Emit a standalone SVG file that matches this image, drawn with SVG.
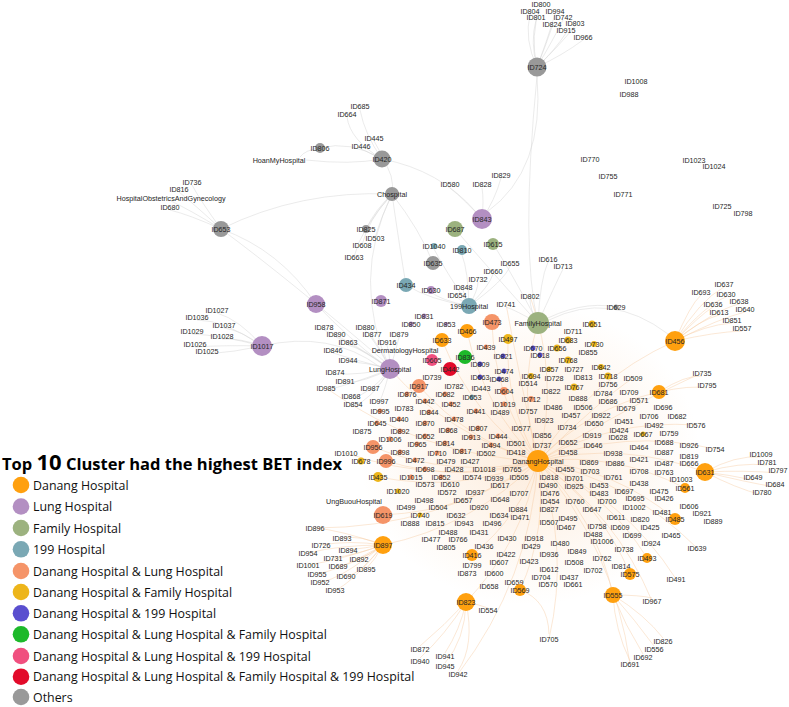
<svg xmlns="http://www.w3.org/2000/svg" width="789" height="707" viewBox="0 0 789 707">
<style>
.t{font-family:"Liberation Sans",Arial,sans-serif;font-size:7.2px;fill:#262626;text-anchor:middle;dominant-baseline:central}
.e{fill:none;stroke:#d4d4d4;stroke-width:.6;opacity:.8}
.o{fill:none;stroke:#f5cba3;stroke-width:.6;opacity:.75}
.c0{fill:#ffa00f}.c1{fill:#b38fc2}.c2{fill:#9cb27f}.c3{fill:#7aa8b4}.c4{fill:#f59468}.c5{fill:#edb51a}.c6{fill:#5a4fcf}.c7{fill:#1db92a}.c8{fill:#f0507f}.c9{fill:#e20a2a}.c10{fill:#999}
.lg{font-family:"Open Sans","Noto Sans",sans-serif;font-size:12.4px;fill:#111}
.ttl{font-family:"Open Sans","Noto Sans",sans-serif;font-size:16.5px;font-weight:bold;fill:#000}
</style>
<defs>
<radialGradient id="haze" cx="0.5" cy="0.5" r="0.5">
<stop offset="0" stop-color="#fbd9b8" stop-opacity="0.5"/>
<stop offset="1" stop-color="#fbd9b8" stop-opacity="0"/>
</radialGradient>
</defs>
<rect width="789" height="707" fill="#fff"/>
<g id="connectors">
<ellipse cx="530" cy="455" rx="170" ry="150" fill="url(#haze)"/>
<path class="e" d="M537,67 Q530,35 540,8 M537,67 Q524,40 530,14 M537,67 Q548,38 555,14 M537,67 Q530,42 536,20 M537,67 Q553,40 563,20 M537,67 Q546,45 552,27 M537,67 Q560,45 575,26 M537,67 Q555,50 566,33 M537,67 Q563,55 583,40"/>
<path class="e" d="M537,76 Q545,170 487,212 M482,219 Q495,200 501,178 M482,219 Q484,200 482,188 M482,219 Q465,200 450,188"/>
<path class="e" d="M382,159 Q365,135 360,110 M382,159 Q350,140 347,117 M382,159 Q380,150 374,141 M382,159 Q368,152 361,149 M382,159 Q350,140 320,148 M320,148 Q305,150 300,157 M382,159 Q350,165 306,160 M382,159 Q395,175 392,194 M382,159 Q440,170 476,212"/>
<path class="e" d="M392,194 Q300,190 221,229 M392,194 Q350,280 390,369 M392,194 Q375,210 366,229 M392,194 Q380,220 375,238 M392,194 Q368,220 362,245 M392,194 Q360,230 354,257 M392,194 Q400,250 406,285 M392,194 Q420,230 433,263"/>
<path class="e" d="M221,229 Q200,200 192,185 M221,229 Q195,205 179,192 M221,229 Q190,210 171,201 M221,229 Q190,215 170,210 M221,229 Q290,280 385,362 M221,229 Q280,250 316,304"/>
<path class="e" d="M262,346 Q240,320 217,313 M262,346 Q225,320 197,320 M262,346 Q240,330 224,328 M262,346 Q220,335 192,334 M262,346 Q240,338 222,339 M262,346 Q225,345 195,347 M262,346 Q235,352 207,354 M262,346 Q330,330 380,367 M316,304 Q350,340 382,363"/>
<path class="e" d="M390,369 Q350,340 324,330 M390,369 Q355,345 336,337 M390,369 Q365,350 348,345 M390,369 Q355,360 333,353 M390,369 Q365,362 348,362 M390,369 Q360,375 335,374 M390,369 Q365,382 345,383 M390,369 Q350,385 326,390 M390,369 Q378,345 365,330 M390,369 Q382,350 372,337 M390,369 Q396,350 399,337 M390,369 Q390,355 387,345 M390,369 Q370,395 351,398 M390,369 Q372,400 353,406 M390,369 Q378,390 370,390 M390,369 Q385,390 379,403"/>
<path class="e" d="M469,306 Q465,296 463,290 M469,306 Q460,300 457,297 M469,306 Q478,290 478,282 M469,306 Q490,285 493,274 M469,306 Q505,280 510,266 M469,306 Q468,270 462,255 M469,306 Q445,270 434,249 M469,306 Q440,300 431,292 M469,306 Q430,300 406,285"/>
<path class="e" d="M538,323 Q540,280 548,262 M538,323 Q555,285 563,269 M538,323 Q530,310 530,299 M538,323 Q515,310 506,307 M538,323 Q490,270 455,229 M538,323 Q510,270 493,244 M538,323 Q580,300 616,307 M549,320 Q610,290 668,334 M538,323 Q520,250 537,76"/>
<path class="o" d="M675,341 Q700,300 724,287 M675,341 Q690,305 701,295 M675,341 Q705,305 726,297 M675,341 Q700,315 713,307 M675,341 Q715,310 739,304 M675,341 Q700,320 719,315 M675,341 Q720,318 745,312 M675,341 Q705,325 732,323 M675,341 Q715,332 742,331 M659,392 Q685,375 702,376 M659,392 Q690,385 707,388"/>
<path class="o" d="M705,472 Q735,455 761,457 M705,472 Q740,462 767,465 M705,472 Q745,470 778,473 M705,472 Q730,475 753,480 M705,472 Q745,482 775,487 M705,472 Q735,488 762,495"/>
<path class="o" d="M613,595 Q645,615 663,638 M613,595 Q635,620 654,646 M613,595 Q625,625 643,654 M613,595 Q615,630 630,661 M613,595 Q640,595 652,598 M520,590 Q548,600 549,634"/>
<path class="o" d="M466,602 Q445,625 420,646 M466,602 Q460,630 445,653 M466,602 Q445,635 420,658 M466,602 Q465,640 445,663 M466,602 Q475,645 458,671 M466,602 Q480,605 488,608"/>
<path class="o" d="M383,545 Q360,535 342,538 M383,545 Q350,540 321,545 M383,545 Q340,545 308,553 M383,545 Q365,548 348,550 M383,545 Q355,555 333,558 M383,545 Q370,555 359,559 M383,545 Q340,560 308,565 M383,545 Q355,565 338,566 M383,545 Q375,560 366,569 M383,545 Q340,570 317,574 M383,545 Q360,575 346,576 M383,545 Q340,580 320,582 M383,545 Q350,585 335,590 M383,545 Q340,530 315,528"/>
<path class="o" d="M538,461 Q472,415 442,340 M538,461 Q483,407 467,331 M538,461 Q494,398 492,322 M538,461 Q505,404 508,339 M538,461 Q517,392 538,323 M538,461 Q588,380 675,341 M538,461 Q588,408 659,392 M538,461 Q623,441 705,472 M538,461 Q615,452 685,488 M538,461 Q615,469 675,519 M538,461 Q607,493 647,558 M538,461 Q601,504 630,574 M538,461 Q596,517 613,595 M538,461 Q548,528 520,590 M538,461 Q523,542 466,602 M538,461 Q519,518 472,555 M538,461 Q473,526 383,545 M538,461 Q469,511 383,515 M538,461 Q462,484 386,461 M538,461 Q453,479 373,447 M538,461 Q467,441 419,386 M538,461 Q450,437 390,369 M538,461 Q460,493 378,477 M538,461 Q570,548 549,639 M538,461 Q630,481 697,548 M538,461 Q625,428 715,449 M538,461 Q612,419 696,425 M538,461 Q441,486 346,453 M538,461 Q437,528 315,528 M538,461 Q421,456 326,388 M538,461 Q614,549 630,664 M538,461 Q530,580 458,674 M538,461 Q616,514 652,601 M538,461 Q625,499 676,579 M538,461 Q600,400 633,378 M538,461 Q560,380 530,296 M538,461 Q520,380 506,304 M538,461 Q640,400 702,373"/>
</g>
<g id="n_ID800"><text class="t" x="541" y="4">ID800</text></g>
<g id="n_ID804"><text class="t" x="530" y="11">ID804</text></g>
<g id="n_ID994"><text class="t" x="555" y="11">ID994</text></g>
<g id="n_ID801"><text class="t" x="536" y="17">ID801</text></g>
<g id="n_ID742"><text class="t" x="563" y="17">ID742</text></g>
<g id="n_ID824"><text class="t" x="552" y="24">ID824</text></g>
<g id="n_ID803"><text class="t" x="575" y="23">ID803</text></g>
<g id="n_ID915"><text class="t" x="566" y="30">ID915</text></g>
<g id="n_ID966"><text class="t" x="583" y="37">ID966</text></g>
<g id="n_ID724"><circle class="c10" cx="537" cy="67" r="9.5"/><text class="t" x="537" y="67">ID724</text></g>
<g id="n_ID1008"><text class="t" x="636" y="81">ID1008</text></g>
<g id="n_ID988"><text class="t" x="629" y="94">ID988</text></g>
<g id="n_ID770"><text class="t" x="590" y="159">ID770</text></g>
<g id="n_ID1023"><text class="t" x="694" y="160">ID1023</text></g>
<g id="n_ID1024"><text class="t" x="714" y="166">ID1024</text></g>
<g id="n_ID755"><text class="t" x="608" y="176">ID755</text></g>
<g id="n_ID771"><text class="t" x="623" y="194">ID771</text></g>
<g id="n_ID725"><text class="t" x="722" y="206">ID725</text></g>
<g id="n_ID798"><text class="t" x="743" y="213">ID798</text></g>
<g id="n_ID685"><text class="t" x="360" y="106">ID685</text></g>
<g id="n_ID664"><text class="t" x="347" y="114">ID664</text></g>
<g id="n_ID445"><text class="t" x="374" y="138">ID445</text></g>
<g id="n_ID446"><text class="t" x="361" y="146">ID446</text></g>
<g id="n_ID806"><circle class="c10" cx="320" cy="148" r="5"/><text class="t" x="320" y="148">ID806</text></g>
<g id="n_ID420"><circle class="c10" cx="382" cy="159" r="8.5"/><text class="t" x="382" y="159">ID420</text></g>
<g id="n_HoanMyHospital"><text class="t" x="279" y="160">HoanMyHospital</text></g>
<g id="n_ID829"><text class="t" x="501" y="175">ID829</text></g>
<g id="n_ID828"><text class="t" x="482" y="184">ID828</text></g>
<g id="n_ID580"><text class="t" x="450" y="184">ID580</text></g>
<g id="n_Chospital"><circle class="c10" cx="392" cy="194" r="7"/><text class="t" x="392" y="194">Chospital</text></g>
<g id="n_ID736"><text class="t" x="192" y="182">ID736</text></g>
<g id="n_ID816"><text class="t" x="179" y="189">ID816</text></g>
<g id="n_HospitalObstetricsAndGynecology"><text class="t" x="171" y="198">HospitalObstetricsAndGynecology</text></g>
<g id="n_ID680"><text class="t" x="170" y="207">ID680</text></g>
<g id="n_ID653"><circle class="c10" cx="221" cy="229" r="8"/><text class="t" x="221" y="229">ID653</text></g>
<g id="n_ID825"><circle class="c10" cx="366" cy="229" r="4"/><text class="t" x="366" y="229">ID825</text></g>
<g id="n_ID503"><text class="t" x="375" y="238">ID503</text></g>
<g id="n_ID608"><text class="t" x="362" y="245">ID608</text></g>
<g id="n_ID663"><text class="t" x="354" y="257">ID663</text></g>
<g id="n_ID843"><circle class="c1" cx="482" cy="219" r="10"/><text class="t" x="482" y="219">ID843</text></g>
<g id="n_ID687"><circle class="c2" cx="455" cy="229" r="8"/><text class="t" x="455" y="229">ID687</text></g>
<g id="n_ID615"><circle class="c2" cx="493" cy="244" r="6"/><text class="t" x="493" y="244">ID615</text></g>
<g id="n_ID1040"><circle class="c3" cx="434" cy="246" r="3"/><text class="t" x="434" y="246">ID1040</text></g>
<g id="n_ID810"><circle class="c3" cx="462" cy="250" r="5"/><text class="t" x="462" y="250">ID810</text></g>
<g id="n_ID635"><circle class="c10" cx="433" cy="263" r="7"/><text class="t" x="433" y="263">ID635</text></g>
<g id="n_ID655"><text class="t" x="510" y="263">ID655</text></g>
<g id="n_ID660"><text class="t" x="493" y="271">ID660</text></g>
<g id="n_ID732"><text class="t" x="478" y="279">ID732</text></g>
<g id="n_ID848"><text class="t" x="463" y="287">ID848</text></g>
<g id="n_ID654"><text class="t" x="457" y="295">ID654</text></g>
<g id="n_ID616"><text class="t" x="548" y="259">ID616</text></g>
<g id="n_ID713"><text class="t" x="563" y="266">ID713</text></g>
<g id="n_ID434"><circle class="c3" cx="406" cy="285" r="7"/><text class="t" x="406" y="285">ID434</text></g>
<g id="n_ID630"><circle class="c1" cx="431" cy="290" r="4"/><text class="t" x="431" y="290">ID630</text></g>
<g id="n_ID958"><circle class="c1" cx="316" cy="304" r="9"/><text class="t" x="316" y="304">ID958</text></g>
<g id="n_ID871"><circle class="c1" cx="381" cy="301" r="6"/><text class="t" x="381" y="301">ID871</text></g>
<g id="n_199Hospital"><circle class="c3" cx="469" cy="306" r="8"/><text class="t" x="469" y="306">199Hospital</text></g>
<g id="n_ID741"><text class="t" x="506" y="304">ID741</text></g>
<g id="n_ID802"><text class="t" x="530" y="296">ID802</text></g>
<g id="n_ID629"><circle class="c10" cx="616" cy="307" r="2.5"/><text class="t" x="616" y="307">ID629</text></g>
<g id="n_ID637"><text class="t" x="724" y="284">ID637</text></g>
<g id="n_ID693"><text class="t" x="701" y="292">ID693</text></g>
<g id="n_ID630_b"><text class="t" x="726" y="294">ID630</text></g>
<g id="n_ID636"><text class="t" x="713" y="304">ID636</text></g>
<g id="n_ID638"><text class="t" x="739" y="301">ID638</text></g>
<g id="n_ID613"><text class="t" x="719" y="312">ID613</text></g>
<g id="n_ID640"><text class="t" x="745" y="309">ID640</text></g>
<g id="n_ID851"><text class="t" x="732" y="320">ID851</text></g>
<g id="n_ID557"><text class="t" x="742" y="328">ID557</text></g>
<g id="n_ID456"><circle class="c0" cx="675" cy="341" r="10"/><text class="t" x="675" y="341">ID456</text></g>
<g id="n_ID735"><text class="t" x="702" y="373">ID735</text></g>
<g id="n_ID795"><text class="t" x="707" y="385">ID795</text></g>
<g id="n_ID1027"><text class="t" x="217" y="310">ID1027</text></g>
<g id="n_ID1036"><text class="t" x="197" y="317">ID1036</text></g>
<g id="n_ID1037"><text class="t" x="224" y="325">ID1037</text></g>
<g id="n_ID1029"><text class="t" x="192" y="331">ID1029</text></g>
<g id="n_ID1028"><text class="t" x="222" y="336">ID1028</text></g>
<g id="n_ID1026"><text class="t" x="195" y="344">ID1026</text></g>
<g id="n_ID1025"><text class="t" x="207" y="351">ID1025</text></g>
<g id="n_ID1017"><circle class="c1" cx="262" cy="346" r="10"/><text class="t" x="262" y="346">ID1017</text></g>
<g id="n_ID831"><circle class="c1" cx="424" cy="316" r="2.5"/><text class="t" x="424" y="316">ID831</text></g>
<g id="n_ID878"><text class="t" x="324" y="327">ID878</text></g>
<g id="n_ID880"><text class="t" x="365" y="327">ID880</text></g>
<g id="n_ID850"><circle class="c1" cx="411" cy="324" r="2.5"/><text class="t" x="411" y="324">ID850</text></g>
<g id="n_ID853"><circle class="c1" cx="446" cy="324" r="2"/><text class="t" x="446" y="324">ID853</text></g>
<g id="n_ID473"><circle class="c4" cx="492" cy="322" r="8"/><text class="t" x="492" y="322">ID473</text></g>
<g id="n_FamilyHospital"><circle class="c2" cx="538" cy="323" r="11"/><text class="t" x="538" y="323">FamilyHospital</text></g>
<g id="n_ID890"><text class="t" x="336" y="334">ID890</text></g>
<g id="n_ID877"><text class="t" x="372" y="334">ID877</text></g>
<g id="n_ID879"><text class="t" x="399" y="334">ID879</text></g>
<g id="n_ID466"><circle class="c0" cx="467" cy="331" r="7"/><text class="t" x="467" y="331">ID466</text></g>
<g id="n_ID633"><circle class="c0" cx="442" cy="340" r="7"/><text class="t" x="442" y="340">ID633</text></g>
<g id="n_ID497"><circle class="c5" cx="508" cy="339" r="5"/><text class="t" x="508" y="339">ID497</text></g>
<g id="n_ID651"><circle class="c5" cx="592" cy="324" r="3.5"/><text class="t" x="592" y="324">ID651</text></g>
<g id="n_ID711"><text class="t" x="573" y="331">ID711</text></g>
<g id="n_ID683"><circle class="c5" cx="568" cy="340" r="3.5"/><text class="t" x="568" y="340">ID683</text></g>
<g id="n_ID730"><circle class="c5" cx="594" cy="344" r="3"/><text class="t" x="594" y="344">ID730</text></g>
<g id="n_ID656"><circle class="c5" cx="557" cy="348" r="3.5"/><text class="t" x="557" y="348">ID656</text></g>
<g id="n_ID855"><text class="t" x="588" y="352">ID855</text></g>
<g id="n_ID670"><circle class="c6" cx="533" cy="348" r="2.5"/><text class="t" x="533" y="348">ID670</text></g>
<g id="n_ID863"><text class="t" x="348" y="342">ID863</text></g>
<g id="n_ID916"><text class="t" x="387" y="342">ID916</text></g>
<g id="n_ID439"><circle class="c4" cx="486" cy="347" r="2.5"/><text class="t" x="486" y="347">ID439</text></g>
<g id="n_ID846"><text class="t" x="333" y="350">ID846</text></g>
<g id="n_DermatologyHospital"><text class="t" x="405" y="350">DermatologyHospital</text></g>
<g id="n_ID836"><circle class="c7" cx="465" cy="357" r="7"/><text class="t" x="465" y="357">ID836</text></g>
<g id="n_ID605"><circle class="c8" cx="432" cy="360" r="6"/><text class="t" x="432" y="360">ID605</text></g>
<g id="n_ID944"><text class="t" x="348" y="360">ID944</text></g>
<g id="n_ID809"><circle class="c6" cx="480" cy="364" r="2.5"/><text class="t" x="480" y="364">ID809</text></g>
<g id="n_ID821"><circle class="c6" cx="503" cy="356" r="2.5"/><text class="t" x="503" y="356">ID821</text></g>
<g id="n_ID618"><circle class="c6" cx="540" cy="355" r="2.5"/><text class="t" x="540" y="355">ID618</text></g>
<g id="n_ID474"><circle class="c6" cx="504" cy="371" r="2.5"/><text class="t" x="504" y="371">ID474</text></g>
<g id="n_ID874"><text class="t" x="335" y="372">ID874</text></g>
<g id="n_LungHospital"><circle class="c1" cx="390" cy="369" r="10"/><text class="t" x="390" y="369">LungHospital</text></g>
<g id="n_ID442"><circle class="c9" cx="450" cy="369" r="7"/><text class="t" x="450" y="369">ID442</text></g>
<g id="n_ID768"><circle class="c5" cx="568" cy="360" r="3.5"/><text class="t" x="568" y="360">ID768</text></g>
<g id="n_ID857"><circle class="c5" cx="549" cy="369" r="2.5"/><text class="t" x="549" y="369">ID857</text></g>
<g id="n_ID727"><text class="t" x="574" y="369">ID727</text></g>
<g id="n_ID842"><circle class="c5" cx="601" cy="367" r="3"/><text class="t" x="601" y="367">ID842</text></g>
<g id="n_ID891"><text class="t" x="345" y="381">ID891</text></g>
<g id="n_ID739"><text class="t" x="432" y="377">ID739</text></g>
<g id="n_ID663_b"><circle class="c6" cx="480" cy="377" r="2.5"/><text class="t" x="480" y="377">ID663</text></g>
<g id="n_ID468"><circle class="c6" cx="499" cy="379" r="2.5"/><text class="t" x="499" y="379">ID468</text></g>
<g id="n_ID694"><circle class="c5" cx="531" cy="376" r="3"/><text class="t" x="531" y="376">ID694</text></g>
<g id="n_ID728"><text class="t" x="554" y="378">ID728</text></g>
<g id="n_ID813"><text class="t" x="583" y="377">ID813</text></g>
<g id="n_ID718"><circle class="c5" cx="608" cy="376" r="3.5"/><text class="t" x="608" y="376">ID718</text></g>
<g id="n_ID509"><text class="t" x="633" y="378">ID509</text></g>
<g id="n_ID514"><text class="t" x="528" y="383">ID514</text></g>
<g id="n_ID985"><text class="t" x="326" y="388">ID985</text></g>
<g id="n_ID987"><text class="t" x="370" y="388">ID987</text></g>
<g id="n_ID917"><circle class="c4" cx="419" cy="386" r="7"/><text class="t" x="419" y="386">ID917</text></g>
<g id="n_ID782"><text class="t" x="454" y="386">ID782</text></g>
<g id="n_ID443"><text class="t" x="481" y="388">ID443</text></g>
<g id="n_ID604"><circle class="c4" cx="504" cy="391" r="4"/><text class="t" x="504" y="391">ID604</text></g>
<g id="n_ID822"><text class="t" x="551" y="391">ID822</text></g>
<g id="n_ID767"><circle class="c5" cx="574" cy="387" r="3.5"/><text class="t" x="574" y="387">ID767</text></g>
<g id="n_ID756"><text class="t" x="608" y="384">ID756</text></g>
<g id="n_ID784"><text class="t" x="603" y="393">ID784</text></g>
<g id="n_ID709"><text class="t" x="629" y="392">ID709</text></g>
<g id="n_ID681"><circle class="c0" cx="659" cy="392" r="7"/><text class="t" x="659" y="392">ID681</text></g>
<g id="n_ID868"><text class="t" x="351" y="396">ID868</text></g>
<g id="n_ID876"><circle class="c4" cx="407" cy="394" r="2.5"/><text class="t" x="407" y="394">ID876</text></g>
<g id="n_ID682"><circle class="c4" cx="445" cy="394" r="2.5"/><text class="t" x="445" y="394">ID682</text></g>
<g id="n_ID653_b"><circle class="c3" cx="472" cy="397" r="2.5"/><text class="t" x="472" y="397">ID653</text></g>
<g id="n_ID712"><circle class="c4" cx="531" cy="399" r="3"/><text class="t" x="531" y="399">ID712</text></g>
<g id="n_ID888"><text class="t" x="578" y="398">ID888</text></g>
<g id="n_ID686"><text class="t" x="608" y="401">ID686</text></g>
<g id="n_ID571"><text class="t" x="639" y="400">ID571</text></g>
<g id="n_ID854"><text class="t" x="353" y="404">ID854</text></g>
<g id="n_ID997"><text class="t" x="379" y="401">ID997</text></g>
<g id="n_ID442_b"><circle class="c4" cx="425" cy="401" r="2.5"/><text class="t" x="425" y="401">ID442</text></g>
<g id="n_ID452"><circle class="c4" cx="451" cy="404" r="2.5"/><text class="t" x="451" y="404">ID452</text></g>
<g id="n_ID1019"><circle class="c4" cx="504" cy="404" r="2.5"/><text class="t" x="504" y="404">ID1019</text></g>
<g id="n_ID486"><text class="t" x="553" y="407">ID486</text></g>
<g id="n_ID506"><text class="t" x="583" y="407">ID506</text></g>
<g id="n_ID679"><text class="t" x="626" y="408">ID679</text></g>
<g id="n_ID696"><text class="t" x="663" y="407">ID696</text></g>
<g id="n_ID995"><circle class="c4" cx="380" cy="411" r="2.5"/><text class="t" x="380" y="411">ID995</text></g>
<g id="n_ID783"><text class="t" x="404" y="408">ID783</text></g>
<g id="n_ID844"><circle class="c4" cx="429" cy="412" r="2.5"/><text class="t" x="429" y="412">ID844</text></g>
<g id="n_ID441"><circle class="c4" cx="476" cy="411" r="2.5"/><text class="t" x="476" y="411">ID441</text></g>
<g id="n_ID489"><text class="t" x="500" y="412">ID489</text></g>
<g id="n_ID757"><text class="t" x="528" y="411">ID757</text></g>
<g id="n_ID457"><text class="t" x="571" y="415">ID457</text></g>
<g id="n_ID922"><text class="t" x="601" y="415">ID922</text></g>
<g id="n_ID706"><text class="t" x="649" y="416">ID706</text></g>
<g id="n_ID682_b"><text class="t" x="677" y="416">ID682</text></g>
<g id="n_ID645"><circle class="c4" cx="377" cy="423" r="2.5"/><text class="t" x="377" y="423">ID645</text></g>
<g id="n_ID440"><circle class="c4" cx="399" cy="419" r="2.5"/><text class="t" x="399" y="419">ID440</text></g>
<g id="n_ID870"><circle class="c4" cx="425" cy="423" r="2.5"/><text class="t" x="425" y="423">ID870</text></g>
<g id="n_ID478"><circle class="c4" cx="454" cy="419" r="2.5"/><text class="t" x="454" y="419">ID478</text></g>
<g id="n_ID923"><text class="t" x="544" y="420">ID923</text></g>
<g id="n_ID650"><text class="t" x="594" y="423">ID650</text></g>
<g id="n_ID451"><text class="t" x="624" y="421">ID451</text></g>
<g id="n_ID492"><text class="t" x="654" y="425">ID492</text></g>
<g id="n_ID576"><text class="t" x="696" y="425">ID576</text></g>
<g id="n_ID807"><circle class="c4" cx="478" cy="428" r="2.5"/><text class="t" x="478" y="428">ID807</text></g>
<g id="n_ID577"><text class="t" x="521" y="428">ID577</text></g>
<g id="n_ID734"><text class="t" x="567" y="427">ID734</text></g>
<g id="n_ID424"><text class="t" x="619" y="430">ID424</text></g>
<g id="n_ID667"><circle class="c5" cx="643" cy="434" r="2.5"/><text class="t" x="643" y="434">ID667</text></g>
<g id="n_ID759"><text class="t" x="669" y="433">ID759</text></g>
<g id="n_ID875"><text class="t" x="362" y="431">ID875</text></g>
<g id="n_ID892"><circle class="c4" cx="400" cy="431" r="2.5"/><text class="t" x="400" y="431">ID892</text></g>
<g id="n_ID868_b"><circle class="c4" cx="448" cy="430" r="2.5"/><text class="t" x="448" y="430">ID868</text></g>
<g id="n_ID913"><circle class="c4" cx="471" cy="437" r="2.5"/><text class="t" x="471" y="437">ID913</text></g>
<g id="n_ID444"><circle class="c4" cx="498" cy="436" r="2.5"/><text class="t" x="498" y="436">ID444</text></g>
<g id="n_ID856"><text class="t" x="542" y="435">ID856</text></g>
<g id="n_ID919"><text class="t" x="592" y="435">ID919</text></g>
<g id="n_ID628"><text class="t" x="618" y="437">ID628</text></g>
<g id="n_ID1006"><circle class="c4" cx="390" cy="439" r="2.5"/><text class="t" x="390" y="439">ID1006</text></g>
<g id="n_ID652"><circle class="c4" cx="425" cy="436" r="2.5"/><text class="t" x="425" y="436">ID652</text></g>
<g id="n_ID652_b"><text class="t" x="568" y="442">ID652</text></g>
<g id="n_ID646"><text class="t" x="593" y="445">ID646</text></g>
<g id="n_ID688"><text class="t" x="664" y="442">ID688</text></g>
<g id="n_ID926"><text class="t" x="689" y="445">ID926</text></g>
<g id="n_ID754"><text class="t" x="715" y="449">ID754</text></g>
<g id="n_ID956"><circle class="c4" cx="373" cy="447" r="7"/><text class="t" x="373" y="447">ID956</text></g>
<g id="n_ID965"><circle class="c4" cx="417" cy="444" r="2.5"/><text class="t" x="417" y="444">ID965</text></g>
<g id="n_ID814"><circle class="c4" cx="445" cy="443" r="2.5"/><text class="t" x="445" y="443">ID814</text></g>
<g id="n_ID494"><circle class="c4" cx="491" cy="445" r="2.5"/><text class="t" x="491" y="445">ID494</text></g>
<g id="n_ID501"><text class="t" x="516" y="443">ID501</text></g>
<g id="n_ID737"><text class="t" x="542" y="445">ID737</text></g>
<g id="n_ID464"><text class="t" x="639" y="447">ID464</text></g>
<g id="n_ID1010"><text class="t" x="346" y="453">ID1010</text></g>
<g id="n_ID898"><circle class="c4" cx="400" cy="452" r="2.5"/><text class="t" x="400" y="452">ID898</text></g>
<g id="n_ID710"><circle class="c4" cx="437" cy="453" r="2.5"/><text class="t" x="437" y="453">ID710</text></g>
<g id="n_ID817"><circle class="c4" cx="462" cy="451" r="2.5"/><text class="t" x="462" y="451">ID817</text></g>
<g id="n_ID502"><text class="t" x="486" y="453">ID502</text></g>
<g id="n_ID418"><text class="t" x="516" y="452">ID418</text></g>
<g id="n_ID458"><text class="t" x="568" y="452">ID458</text></g>
<g id="n_ID938"><text class="t" x="613" y="453">ID938</text></g>
<g id="n_ID887"><text class="t" x="664" y="452">ID887</text></g>
<g id="n_ID819"><text class="t" x="689" y="456">ID819</text></g>
<g id="n_ID1009"><text class="t" x="761" y="454">ID1009</text></g>
<g id="n_ID678"><circle class="c5" cx="361" cy="461" r="3.5"/><text class="t" x="361" y="461">ID678</text></g>
<g id="n_ID996"><circle class="c4" cx="386" cy="461" r="7"/><text class="t" x="386" y="461">ID996</text></g>
<g id="n_ID472"><circle class="c4" cx="415" cy="460" r="2.5"/><text class="t" x="415" y="460">ID472</text></g>
<g id="n_ID479"><text class="t" x="446" y="461">ID479</text></g>
<g id="n_ID427"><text class="t" x="470" y="461">ID427</text></g>
<g id="n_ID765"><text class="t" x="512" y="469">ID765</text></g>
<g id="n_DanangHospital"><circle class="c0" cx="538" cy="461" r="11"/><text class="t" x="538" y="461">DanangHospital</text></g>
<g id="n_ID869"><text class="t" x="589" y="462">ID869</text></g>
<g id="n_ID886"><text class="t" x="615" y="463">ID886</text></g>
<g id="n_ID421"><text class="t" x="639" y="459">ID421</text></g>
<g id="n_ID487"><text class="t" x="664" y="463">ID487</text></g>
<g id="n_ID666"><text class="t" x="689" y="463">ID666</text></g>
<g id="n_ID781"><text class="t" x="767" y="462">ID781</text></g>
<g id="n_ID698"><circle class="c4" cx="425" cy="469" r="2.5"/><text class="t" x="425" y="469">ID698</text></g>
<g id="n_ID428"><text class="t" x="454" y="469">ID428</text></g>
<g id="n_ID1018"><text class="t" x="484" y="469">ID1018</text></g>
<g id="n_ID455"><text class="t" x="565" y="469">ID455</text></g>
<g id="n_ID703"><text class="t" x="590" y="471">ID703</text></g>
<g id="n_ID708"><text class="t" x="639" y="471">ID708</text></g>
<g id="n_ID763"><text class="t" x="664" y="472">ID763</text></g>
<g id="n_ID631"><circle class="c0" cx="705" cy="472" r="9"/><text class="t" x="705" y="472">ID631</text></g>
<g id="n_ID797"><text class="t" x="778" y="470">ID797</text></g>
<g id="n_ID435"><circle class="c5" cx="378" cy="477" r="5"/><text class="t" x="378" y="477">ID435</text></g>
<g id="n_ID1015"><circle class="c4" cx="411" cy="477" r="2.5"/><text class="t" x="411" y="477">ID1015</text></g>
<g id="n_ID852"><circle class="c4" cx="441" cy="477" r="2.5"/><text class="t" x="441" y="477">ID852</text></g>
<g id="n_ID574"><text class="t" x="472" y="477">ID574</text></g>
<g id="n_ID939"><text class="t" x="494" y="478">ID939</text></g>
<g id="n_ID505"><text class="t" x="519" y="477">ID505</text></g>
<g id="n_ID818"><text class="t" x="549" y="477">ID818</text></g>
<g id="n_ID701"><text class="t" x="574" y="478">ID701</text></g>
<g id="n_ID761"><text class="t" x="613" y="477">ID761</text></g>
<g id="n_ID649"><text class="t" x="753" y="477">ID649</text></g>
<g id="n_ID1003"><text class="t" x="681" y="479">ID1003</text></g>
<g id="n_ID573"><text class="t" x="425" y="484">ID573</text></g>
<g id="n_ID610"><text class="t" x="450" y="484">ID610</text></g>
<g id="n_ID617"><text class="t" x="500" y="485">ID617</text></g>
<g id="n_ID490"><text class="t" x="548" y="485">ID490</text></g>
<g id="n_ID925"><text class="t" x="574" y="486">ID925</text></g>
<g id="n_ID453"><text class="t" x="599" y="485">ID453</text></g>
<g id="n_ID438"><text class="t" x="639" y="483">ID438</text></g>
<g id="n_ID684"><text class="t" x="775" y="484">ID684</text></g>
<g id="n_ID561"><circle class="c0" cx="685" cy="488" r="5"/><text class="t" x="685" y="488">ID561</text></g>
<g id="n_ID1020"><circle class="c5" cx="398" cy="491" r="2.5"/><text class="t" x="398" y="491">ID1020</text></g>
<g id="n_ID572"><text class="t" x="447" y="492">ID572</text></g>
<g id="n_ID937"><text class="t" x="475" y="492">ID937</text></g>
<g id="n_ID707"><text class="t" x="519" y="493">ID707</text></g>
<g id="n_ID476"><text class="t" x="550" y="493">ID476</text></g>
<g id="n_ID483"><text class="t" x="599" y="493">ID483</text></g>
<g id="n_ID697"><text class="t" x="624" y="491">ID697</text></g>
<g id="n_ID475"><text class="t" x="659" y="491">ID475</text></g>
<g id="n_ID780"><text class="t" x="762" y="492">ID780</text></g>
<g id="n_UngBuouHospital"><text class="t" x="354" y="501">UngBuouHospital</text></g>
<g id="n_ID498"><text class="t" x="424" y="500">ID498</text></g>
<g id="n_ID657"><text class="t" x="463" y="500">ID657</text></g>
<g id="n_ID648"><text class="t" x="500" y="499">ID648</text></g>
<g id="n_ID454"><text class="t" x="550" y="501">ID454</text></g>
<g id="n_ID760"><text class="t" x="575" y="501">ID760</text></g>
<g id="n_ID700"><text class="t" x="607" y="501">ID700</text></g>
<g id="n_ID695"><text class="t" x="635" y="498">ID695</text></g>
<g id="n_ID426"><text class="t" x="664" y="498">ID426</text></g>
<g id="n_ID499"><text class="t" x="406" y="507">ID499</text></g>
<g id="n_ID504"><text class="t" x="438" y="507">ID504</text></g>
<g id="n_ID920"><text class="t" x="479" y="507">ID920</text></g>
<g id="n_ID884"><text class="t" x="518" y="509">ID884</text></g>
<g id="n_ID827"><text class="t" x="549" y="509">ID827</text></g>
<g id="n_ID647"><text class="t" x="592" y="509">ID647</text></g>
<g id="n_ID1002"><text class="t" x="634" y="507">ID1002</text></g>
<g id="n_ID606"><text class="t" x="689" y="506">ID606</text></g>
<g id="n_ID481"><text class="t" x="662" y="512">ID481</text></g>
<g id="n_ID921"><text class="t" x="702" y="513">ID921</text></g>
<g id="n_ID619"><circle class="c4" cx="383" cy="515" r="9"/><text class="t" x="383" y="515">ID619</text></g>
<g id="n_ID740"><circle class="c5" cx="420" cy="515" r="2.5"/><text class="t" x="420" y="515">ID740</text></g>
<g id="n_ID632"><text class="t" x="456" y="515">ID632</text></g>
<g id="n_ID634"><text class="t" x="499" y="515">ID634</text></g>
<g id="n_ID471"><text class="t" x="520" y="517">ID471</text></g>
<g id="n_ID495"><text class="t" x="568" y="518">ID495</text></g>
<g id="n_ID611"><text class="t" x="616" y="517">ID611</text></g>
<g id="n_ID820"><text class="t" x="640" y="519">ID820</text></g>
<g id="n_ID485"><circle class="c0" cx="675" cy="519" r="6"/><text class="t" x="675" y="519">ID485</text></g>
<g id="n_ID889"><text class="t" x="713" y="521">ID889</text></g>
<g id="n_ID888_b"><text class="t" x="410" y="523">ID888</text></g>
<g id="n_ID815"><text class="t" x="435" y="523">ID815</text></g>
<g id="n_ID943"><text class="t" x="464" y="523">ID943</text></g>
<g id="n_ID496"><text class="t" x="492" y="523">ID496</text></g>
<g id="n_ID507"><text class="t" x="549" y="522">ID507</text></g>
<g id="n_ID896"><text class="t" x="315" y="528">ID896</text></g>
<g id="n_ID467"><text class="t" x="566" y="527">ID467</text></g>
<g id="n_ID758"><text class="t" x="597" y="526">ID758</text></g>
<g id="n_ID609"><text class="t" x="620" y="527">ID609</text></g>
<g id="n_ID425"><text class="t" x="650" y="527">ID425</text></g>
<g id="n_ID488"><text class="t" x="448" y="532">ID488</text></g>
<g id="n_ID431"><text class="t" x="479" y="532">ID431</text></g>
<g id="n_ID918"><text class="t" x="534" y="538">ID918</text></g>
<g id="n_ID488_b"><text class="t" x="593" y="534">ID488</text></g>
<g id="n_ID699"><text class="t" x="632" y="535">ID699</text></g>
<g id="n_ID465"><text class="t" x="671" y="535">ID465</text></g>
<g id="n_ID893"><text class="t" x="342" y="538">ID893</text></g>
<g id="n_ID477"><text class="t" x="431" y="539">ID477</text></g>
<g id="n_ID766"><text class="t" x="458" y="539">ID766</text></g>
<g id="n_ID430"><text class="t" x="507" y="538">ID430</text></g>
<g id="n_ID480"><text class="t" x="560" y="543">ID480</text></g>
<g id="n_ID1006_b"><text class="t" x="602" y="541">ID1006</text></g>
<g id="n_ID924"><text class="t" x="651" y="543">ID924</text></g>
<g id="n_ID897"><circle class="c0" cx="383" cy="545" r="9"/><text class="t" x="383" y="545">ID897</text></g>
<g id="n_ID726"><text class="t" x="321" y="545">ID726</text></g>
<g id="n_ID805"><text class="t" x="446" y="547">ID805</text></g>
<g id="n_ID436"><text class="t" x="484" y="546">ID436</text></g>
<g id="n_ID429"><text class="t" x="531" y="546">ID429</text></g>
<g id="n_ID738"><text class="t" x="624" y="549">ID738</text></g>
<g id="n_ID639"><text class="t" x="697" y="548">ID639</text></g>
<g id="n_ID894"><text class="t" x="348" y="550">ID894</text></g>
<g id="n_ID954"><text class="t" x="308" y="553">ID954</text></g>
<g id="n_ID416"><circle class="c0" cx="472" cy="555" r="6"/><text class="t" x="472" y="555">ID416</text></g>
<g id="n_ID422"><text class="t" x="506" y="554">ID422</text></g>
<g id="n_ID936"><text class="t" x="549" y="554">ID936</text></g>
<g id="n_ID849"><text class="t" x="577" y="551">ID849</text></g>
<g id="n_ID731"><text class="t" x="333" y="558">ID731</text></g>
<g id="n_ID892_b"><text class="t" x="359" y="559">ID892</text></g>
<g id="n_ID762"><text class="t" x="602" y="558">ID762</text></g>
<g id="n_ID493"><circle class="c0" cx="647" cy="558" r="5"/><text class="t" x="647" y="558">ID493</text></g>
<g id="n_ID607"><text class="t" x="499" y="562">ID607</text></g>
<g id="n_ID423"><text class="t" x="529" y="561">ID423</text></g>
<g id="n_ID508"><text class="t" x="574" y="562">ID508</text></g>
<g id="n_ID1001"><text class="t" x="308" y="565">ID1001</text></g>
<g id="n_ID689"><text class="t" x="338" y="566">ID689</text></g>
<g id="n_ID799"><text class="t" x="472" y="565">ID799</text></g>
<g id="n_ID814_b"><text class="t" x="621" y="566">ID814</text></g>
<g id="n_ID895"><text class="t" x="366" y="569">ID895</text></g>
<g id="n_ID612"><text class="t" x="549" y="569">ID612</text></g>
<g id="n_ID702"><text class="t" x="593" y="570">ID702</text></g>
<g id="n_ID575"><circle class="c0" cx="630" cy="574" r="6"/><text class="t" x="630" y="574">ID575</text></g>
<g id="n_ID955"><text class="t" x="317" y="574">ID955</text></g>
<g id="n_ID690"><text class="t" x="346" y="576">ID690</text></g>
<g id="n_ID873"><text class="t" x="467" y="573">ID873</text></g>
<g id="n_ID600"><text class="t" x="494" y="573">ID600</text></g>
<g id="n_ID704"><text class="t" x="541" y="577">ID704</text></g>
<g id="n_ID437"><text class="t" x="569" y="577">ID437</text></g>
<g id="n_ID491"><text class="t" x="676" y="579">ID491</text></g>
<g id="n_ID952"><text class="t" x="320" y="582">ID952</text></g>
<g id="n_ID659"><text class="t" x="514" y="582">ID659</text></g>
<g id="n_ID570"><text class="t" x="548" y="584">ID570</text></g>
<g id="n_ID661"><text class="t" x="573" y="584">ID661</text></g>
<g id="n_ID658"><text class="t" x="489" y="586">ID658</text></g>
<g id="n_ID953"><text class="t" x="335" y="590">ID953</text></g>
<g id="n_ID569"><circle class="c0" cx="520" cy="590" r="6"/><text class="t" x="520" y="590">ID569</text></g>
<g id="n_ID555"><circle class="c0" cx="613" cy="595" r="8"/><text class="t" x="613" y="595">ID555</text></g>
<g id="n_ID967"><text class="t" x="652" y="601">ID967</text></g>
<g id="n_ID823"><circle class="c0" cx="466" cy="602" r="9"/><text class="t" x="466" y="602">ID823</text></g>
<g id="n_ID554"><text class="t" x="488" y="610">ID554</text></g>
<g id="n_ID705"><text class="t" x="549" y="639">ID705</text></g>
<g id="n_ID826"><text class="t" x="663" y="641">ID826</text></g>
<g id="n_ID556"><text class="t" x="654" y="649">ID556</text></g>
<g id="n_ID692"><text class="t" x="643" y="657">ID692</text></g>
<g id="n_ID691"><text class="t" x="630" y="664">ID691</text></g>
<g id="n_ID872"><text class="t" x="420" y="649">ID872</text></g>
<g id="n_ID941"><text class="t" x="445" y="656">ID941</text></g>
<g id="n_ID940"><text class="t" x="420" y="661">ID940</text></g>
<g id="n_ID945"><text class="t" x="445" y="666">ID945</text></g>
<g id="n_ID942"><text class="t" x="458" y="674">ID942</text></g>
<g id="legend">
<text class="ttl" x="2" y="469.5">Top <tspan font-size="22">10</tspan> Cluster had the highest BET index</text>
<circle class="c0" cx="21" cy="485" r="8.3"/><text class="lg" x="33" y="489.5">Danang Hospital</text>
<circle class="c1" cx="21" cy="506.5" r="8.3"/><text class="lg" x="33" y="511">Lung Hospital</text>
<circle class="c2" cx="21" cy="528" r="8.3"/><text class="lg" x="33" y="532.5">Family Hospital</text>
<circle class="c3" cx="21" cy="549.3" r="8.3"/><text class="lg" x="33" y="553.8">199 Hospital</text>
<circle class="c4" cx="21" cy="571" r="8.3"/><text class="lg" x="33" y="575.5">Danang Hospital &amp; Lung Hospital</text>
<circle class="c5" cx="21" cy="592" r="8.3"/><text class="lg" x="33" y="596.5">Danang Hospital &amp; Family Hospital</text>
<circle class="c6" cx="21" cy="613.3" r="8.3"/><text class="lg" x="33" y="617.8">Danang Hospital &amp; 199 Hospital</text>
<circle class="c7" cx="21" cy="634.3" r="8.3"/><text class="lg" x="33" y="638.8">Danang Hospital &amp; Lung Hospital &amp; Family Hospital</text>
<circle class="c8" cx="21" cy="656" r="8.3"/><text class="lg" x="33" y="660.5">Danang Hospital &amp; Lung Hospital &amp; 199 Hospital</text>
<circle class="c9" cx="21" cy="676.7" r="8.3"/><text class="lg" x="33" y="681.2">Danang Hospital &amp; Lung Hospital &amp; Family Hospital &amp; 199 Hospital</text>
<circle class="c10" cx="21" cy="697" r="8.3"/><text class="lg" x="33" y="701.5">Others</text>
</g>
</svg>
